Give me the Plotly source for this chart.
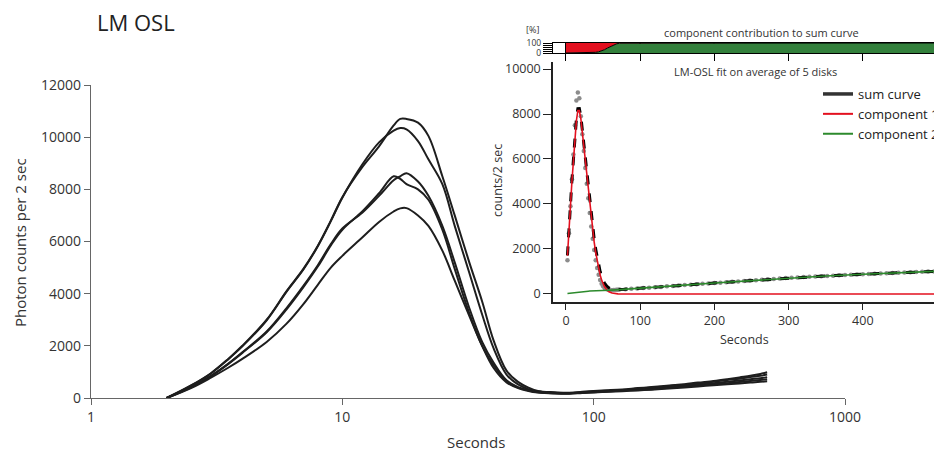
import plotly.graph_objs as go

# main chart: LM-OSL curves of 5 disks (log time axis)
t_main = [2, 2.5, 3, 3.5, 4, 5, 6, 7, 8, 9, 10, 12, 14, 16, 17, 18, 20, 22, 25, 28, 32, 36, 40, 45, 50, 55,
          60, 70, 80, 90, 100, 115, 130, 150, 170, 200, 230, 260, 300, 340, 380, 420, 460, 490]
disk_a = [0, 480, 950, 1480, 2000, 3000, 4100, 4950, 5850, 6800, 7700, 8850, 9650, 10450, 10700, 10700, 10560,
          10050, 8500, 7000, 5200, 3700, 2200, 1050, 620, 400, 270, 220, 200, 240, 270, 300, 330, 380, 420, 480,
          530, 590, 650, 720, 790, 850, 920, 990]
disk_b = [0, 470, 940, 1470, 1980, 2980, 4080, 4930, 5830, 6780, 7680, 8950, 9800, 10250, 10350, 10300, 9850,
          9150, 8200, 6600, 4800, 3200, 1900, 900, 520, 340, 250, 200, 190, 220, 250, 290, 310, 360, 400, 460,
          510, 560, 620, 690, 740, 800, 850, 900]
disk_c = [0, 420, 850, 1300, 1750, 2550, 3450, 4300, 5100, 5900, 6500, 7100, 7750, 8350, 8500, 8620, 8300,
          7750, 6600, 5200, 3450, 2150, 1350, 680, 420, 300, 230, 190, 180, 210, 240, 270, 300, 340, 370, 420,
          470, 520, 570, 620, 670, 720, 760, 800]
disk_d = [0, 410, 840, 1290, 1730, 2520, 3400, 4250, 5050, 5850, 6450, 7150, 7850, 8500, 8400, 8200, 8000,
          7600, 6450, 4950, 3250, 2000, 1250, 640, 400, 290, 220, 180, 170, 200, 220, 250, 280, 310, 340, 390,
          430, 480, 530, 570, 610, 650, 690, 720]
disk_e = [0, 380, 780, 1150, 1500, 2150, 2850, 3600, 4350, 5000, 5450, 6150, 6750, 7150, 7270, 7280, 7000,
          6600, 5650, 4500, 3150, 2000, 1150, 600, 380, 270, 210, 170, 160, 190, 210, 240, 260, 290, 320, 360,
          400, 440, 490, 530, 560, 590, 620, 640]
main_ticks = [1, 10, 100, 1000]

# inset: averaged measurement points
t_dots = [2, 4, 6, 8, 10, 12, 14, 16, 18, 20, 22, 24, 26, 28, 30, 32, 34, 36, 38, 40, 42, 44, 46, 48, 50, 52,
          54, 56, 58, 60, 62, 64, 66, 68, 70,
          72, 80, 88, 96, 104, 112, 120, 128, 136, 144, 152, 160, 168, 176, 184, 192, 200, 208, 216, 224, 232,
          240, 248, 256, 264, 272, 280, 288, 296, 304, 312, 320, 328, 336, 344, 352, 360, 368, 376, 384, 392,
          400, 408, 416, 424, 432, 440, 448, 456, 464, 472, 480, 488, 496]
dots = [1500, 2700, 3900, 5100, 6200, 7500, 8600, 8950, 8700, 7900, 7100, 6350, 5600, 4900, 4250, 3600, 3000,
        2450, 1950, 1500, 1150, 850, 620, 450, 340, 270, 230, 200, 180, 175, 170, 175, 180, 185, 190,
        200, 215, 235, 245, 265, 280, 300, 315, 340, 350, 380, 395, 410, 435, 450, 470, 490, 505, 525, 540, 560,
        575, 600, 610, 630, 655, 670, 690, 710, 725, 735, 750, 765, 775, 790, 805, 815, 830, 840, 855, 865,
        880, 890, 905, 915, 925, 935, 945, 960, 965, 975, 990, 995, 1005]

# inset: fitted curves
t_fit = [2, 4, 6, 8, 10, 12, 14, 16, 18, 20, 22, 24, 26, 28, 30, 32, 34, 36, 38, 40, 42, 44, 46, 48, 50, 52,
         55, 58, 62, 66, 70, 80, 100, 150, 200, 250, 300, 350, 400, 450, 500]
comp1 = [1700, 2900, 4000, 5000, 5900, 6900, 7700, 8150, 8150, 7800, 7200, 6500, 5800, 5100, 4500, 3900, 3300,
         2800, 2300, 1850, 1450, 1100, 850, 620, 450, 320, 190, 100, 40, 15, 5, 0, 0, 0, 0, 0, 0, 0, 0, 0, 0]
comp2 = [20, 30, 40, 50, 60, 70, 80, 90, 95, 100, 105, 110, 115, 120, 125, 130, 135, 140, 142, 145, 148, 150,
         152, 155, 158, 160, 163, 166, 172, 180, 190, 210, 250, 370, 490, 600, 720, 800, 880, 950, 1010]
sum_curve = [1720, 2930, 4040, 5050, 5960, 6970, 7780, 8240, 8245, 7900, 7305, 6610, 5915, 5220, 4625, 4030,
             3435, 2940, 2442, 1995, 1598, 1250, 1002, 775, 608, 480, 353, 266, 212, 195, 195, 210, 250, 370,
             490, 600, 720, 800, 880, 950, 1010]
inset_ticks = [0, 100, 200, 300, 400, 500]

# contribution bar (percent of sum curve)
t_share = [0, 30, 40, 44, 48, 52, 56, 60, 64, 68, 72, 500]
share_comp2 = [0, 3, 7, 12, 20, 33, 50, 66, 80, 91, 98, 100]
share_comp1 = [100, 97, 93, 88, 80, 67, 50, 34, 20, 9, 2, 0]

# the page puts the figure 8px in from the top-left corner
OFF = 8
W, H = 942 - OFF, 455 - OFF
RED = '#e3101f'
GREEN = '#2c8a2c'
BAR_GREEN = '#33803c'


def px(x):
    return (x - OFF) / W


def py(y):
    return 1 - (y - OFF) / H


fig = go.Figure()

for vals in [disk_a, disk_b, disk_c, disk_d, disk_e]:
    fig.add_trace(go.Scatter(x=t_main, y=vals, mode='lines', line=dict(color='#1e1e1e', width=2, shape='spline'),
                             showlegend=False, hoverinfo='skip', xaxis='x', yaxis='y'))

# inset
fig.add_trace(go.Scatter(x=t_dots, y=dots, mode='markers', marker=dict(color='#8c8c8c', size=4.5),
                         showlegend=False, xaxis='x2', yaxis='y2'))
fig.add_trace(go.Scatter(x=t_fit, y=sum_curve, mode='lines', line=dict(color='black', width=3, dash='dash'),
                         showlegend=False, xaxis='x2', yaxis='y2'))
fig.add_trace(go.Scatter(x=t_fit, y=comp1, mode='lines', line=dict(color=RED, width=1.6),
                         showlegend=False, xaxis='x2', yaxis='y2'))
fig.add_trace(go.Scatter(x=t_fit, y=comp2, mode='lines', line=dict(color=GREEN, width=1.6),
                         showlegend=False, xaxis='x2', yaxis='y2'))

# legend entries (solid lines)
fig.add_trace(go.Scatter(x=[None], y=[None], mode='lines', line=dict(color='#333', width=3.5),
                         name='sum curve', xaxis='x2', yaxis='y2'))
fig.add_trace(go.Scatter(x=[None], y=[None], mode='lines', line=dict(color=RED, width=2),
                         name='component 1', xaxis='x2', yaxis='y2'))
fig.add_trace(go.Scatter(x=[None], y=[None], mode='lines', line=dict(color=GREEN, width=2),
                         name='component 2', xaxis='x2', yaxis='y2'))

# contribution bar
fig.add_trace(go.Scatter(x=t_share, y=share_comp2, mode='lines', stackgroup='share',
                         line=dict(color='black', width=1), fillcolor=BAR_GREEN,
                         showlegend=False, xaxis='x3', yaxis='y3'))
fig.add_trace(go.Scatter(x=t_share, y=share_comp1, mode='lines', stackgroup='share',
                         line=dict(color='black', width=0), fillcolor=RED,
                         showlegend=False, xaxis='x3', yaxis='y3'))

axis_font = dict(family='Open Sans', color='#333')

fig.update_layout(
    width=W, height=H,
    margin=dict(l=0, r=0, t=0, b=0, autoexpand=False),
    paper_bgcolor='white', plot_bgcolor='white',
    font=dict(family='Open Sans', color='#333'),
    xaxis=dict(type='log', range=[0, 3], domain=[px(91), px(845)], anchor='y',
               showline=True, linecolor='#666', linewidth=1.2, ticks='outside', ticklen=6, tickcolor='#666',
               tickvals=main_ticks, ticktext=[str(v) for v in main_ticks], tickfont=dict(size=14, **axis_font),
               showgrid=False, zeroline=False),
    yaxis=dict(range=[0, 12000], domain=[py(398), py(85)], anchor='x',
               showline=True, linecolor='#666', linewidth=1.2, ticks='outside', ticklen=6, tickcolor='#666',
               dtick=2000, tickformat='d', tickfont=dict(size=14, **axis_font), showgrid=False, zeroline=False),
    xaxis2=dict(range=[-17.5, 506.7], domain=[px(553), 1], anchor='y2',
                showline=True, linecolor='#222', linewidth=1.5, ticks='outside', ticklen=6, tickcolor='#222',
                tickvals=inset_ticks, tickfont=dict(size=12.5, **axis_font), showgrid=False, zeroline=False),
    yaxis2=dict(range=[-356, 10311], domain=[py(302), py(62)], anchor='x2',
                showline=True, linecolor='#222', linewidth=1.5, ticks='outside', ticklen=8, tickcolor='#222',
                dtick=2000, tickformat='d', tickfont=dict(size=12.5, **axis_font), showgrid=False, zeroline=False),
    xaxis3=dict(range=[-17.5, 506.7], domain=[px(553), 1], anchor='y3',
                showline=True, mirror=True, linecolor='black', linewidth=1.2, ticks='outside', ticklen=7,
                tickcolor='black', tickvals=inset_ticks, showticklabels=False,
                showgrid=True, gridcolor='black', gridwidth=1.5, zeroline=False),
    yaxis3=dict(range=[0, 100], domain=[py(53), py(43)], anchor='x3',
                showline=True, mirror=True, linecolor='black', linewidth=1.2, ticks='outside', ticklen=9,
                tickcolor='black', tickvals=[0, 20, 40, 60, 80, 100], ticktext=['0', '', '', '', '', '100'],
                tickfont=dict(size=8.5, **axis_font), showgrid=False, zeroline=False),
    legend=dict(x=px(818), y=py(79), xanchor='left', yanchor='top', bgcolor='rgba(0,0,0,0)',
                font=dict(size=13, color='#222'), tracegroupgap=0, itemwidth=30, traceorder='normal'),
    showlegend=True,
)

annotations = [
    dict(text='LM OSL', x=px(95), y=py(22), xanchor='left', font=dict(size=22, color='#222')),
    dict(text='Photon counts per 2 sec', x=px(20), y=py(243), textangle=-90, font=dict(size=15)),
    dict(text='Seconds', x=px(476), y=py(442), font=dict(size=15)),
    dict(text='counts/2 sec', x=px(497), y=py(180), textangle=-90, font=dict(size=12.5)),
    dict(text='Seconds', x=px(744), y=py(339), font=dict(size=12.5)),
    dict(text='LM-OSL fit on average of 5 disks', x=px(755), y=py(72), font=dict(size=11)),
    dict(text='component contribution to sum curve', x=px(761), y=py(33), font=dict(size=11)),
    dict(text='[%]', x=px(532), y=py(30), font=dict(size=9)),
]
for a in annotations:
    a.setdefault('xanchor', 'center')
    a.update(xref='paper', yref='paper', yanchor='middle', showarrow=False)
    fig.add_annotation(**a)

fig.write_html("out.html")
